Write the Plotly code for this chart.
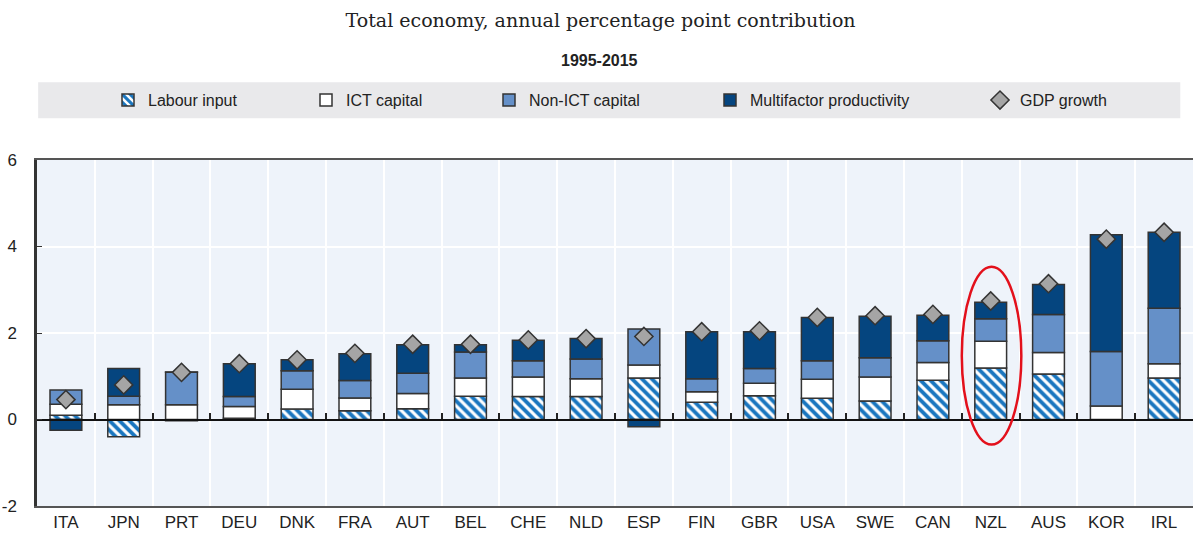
import plotly.graph_objs as go

countries = ['ITA', 'JPN', 'PRT', 'DEU', 'DNK', 'FRA', 'AUT', 'BEL', 'CHE', 'NLD',
             'ESP', 'FIN', 'GBR', 'USA', 'SWE', 'CAN', 'NZL', 'AUS', 'KOR', 'IRL']
labour = [0.10, -0.40, -0.03, 0.03, 0.24, 0.20, 0.25, 0.54, 0.53, 0.53,
          0.96, 0.40, 0.55, 0.49, 0.43, 0.91, 1.19, 1.05, -0.02, 0.96]
ict = [0.25, 0.34, 0.34, 0.27, 0.46, 0.30, 0.35, 0.42, 0.45, 0.41,
       0.30, 0.24, 0.29, 0.44, 0.55, 0.41, 0.62, 0.50, 0.31, 0.33]
non_ict = [0.33, 0.20, 0.75, 0.23, 0.43, 0.40, 0.47, 0.60, 0.38, 0.46,
           0.83, 0.30, 0.34, 0.43, 0.45, 0.50, 0.52, 0.88, 1.26, 1.28]
mfp = [-0.25, 0.64, 0.01, 0.76, 0.25, 0.62, 0.66, 0.17, 0.47, 0.47,
       -0.17, 1.09, 0.85, 1.00, 0.96, 0.59, 0.38, 0.69, 2.70, 1.76]
gdp = [0.46, 0.80, 1.09, 1.29, 1.38, 1.53, 1.74, 1.74, 1.84, 1.87,
       1.92, 2.03, 2.05, 2.36, 2.40, 2.43, 2.74, 3.14, 4.17, 4.33]
y_ticks = [-2, 0, 2, 4, 6]
y_ticktext = ['-2', '0', '2', '4', '6']
highlight = 'NZL'

FONT = 'Liberation Sans Narrow, Arial Narrow, Liberation Sans, Arial, sans-serif'
OUTLINE = dict(color='#333333', width=1.5)
BAR_W = 0.55

fig = go.Figure()

fig.add_trace(go.Bar(
    name='Labour input', x=countries, y=labour, width=BAR_W, legend='legend',
    marker=dict(color='white', line=OUTLINE,
                pattern=dict(shape='\\', fgcolor='#1A76BF', bgcolor='white', fgopacity=1,
                             size=7, solidity=0.55)),
))
fig.add_trace(go.Bar(
    name='ICT capital', x=countries, y=ict, width=BAR_W, legend='legend2',
    marker=dict(color='white', line=OUTLINE),
))
fig.add_trace(go.Bar(
    name='Non-ICT capital', x=countries, y=non_ict, width=BAR_W, legend='legend3',
    marker=dict(color='#6590C8', line=OUTLINE),
))
fig.add_trace(go.Bar(
    name='Multifactor productivity', x=countries, y=mfp, width=BAR_W, legend='legend4',
    marker=dict(color='#05457F', line=OUTLINE),
))
fig.add_trace(go.Scatter(
    name='GDP growth', x=countries, y=gdp, mode='markers', legend='legend5',
    marker=dict(symbol='diamond', size=14, color='#A5A5A5',
                line=dict(color='#333333', width=1.5)),
))

# empty trace so the zero-line axis (with boundary ticks) gets drawn
fig.add_trace(go.Scatter(x=[], y=[], xaxis='x2', showlegend=False, hoverinfo='skip'))

# gray legend band
fig.add_shape(type='rect', xref='paper', yref='paper', x0=0.001, x1=0.989,
              y0=1.121, y1=1.225, fillcolor='#E9E9EB', line=dict(width=0), layer='below')

# red ellipse around the highlighted country
i = countries.index(highlight)
fig.add_shape(type='circle', xref='x', yref='y', x0=i - 0.5, x1=i + 0.53,
              y0=-0.58, y1=3.53, line=dict(color='#E3101B', width=2.5))

legend_x = [148, 346, 529, 750, 1020]
legend_style = dict(orientation='h', yanchor='middle', y=1.173, xanchor='left',
                    bgcolor='rgba(0,0,0,0)', font=dict(family=FONT, size=16, color='#222222'))
legends = {}
for k, px in enumerate(legend_x):
    key = 'legend' if k == 0 else f'legend{k + 1}'
    legends[key] = dict(legend_style, x=(px - 40 - 37) / 1156)

fig.add_annotation(text='<b>1995-2015</b>', xref='paper', yref='paper', x=0.487, y=1.289,
                   yanchor='middle', showarrow=False,
                   font=dict(family=FONT, size=16, color='#222222'))

fig.update_layout(
    barmode='relative',
    width=1194, height=534,
    margin=dict(l=37, r=1, t=160, b=28, autoexpand=False),
    paper_bgcolor='white',
    plot_bgcolor='#EEF3FA',
    title=dict(text='Total economy, annual percentage point contribution',
               x=0.503, xref='container', xanchor='center',
               y=0.962, yref='container', yanchor='middle',
               font=dict(family='DejaVu Serif, Liberation Serif, serif', size=19, color='#222222')),
    xaxis=dict(type='category', categoryorder='array', categoryarray=countries,
               range=[-0.5, len(countries) - 0.5], tickson='boundaries',
               showgrid=True, gridcolor='white', gridwidth=2, ticks='',
               showline=True, linecolor='#555555', linewidth=2, mirror=True,
               tickfont=dict(family=FONT, size=17, color='#222222')),
    xaxis2=dict(overlaying='x', anchor='free', position=0.25, range=[-0.5, len(countries) - 0.5],
                tickvals=[k + 0.5 for k in range(len(countries) - 1)], ticks='inside',
                ticklen=6, tickwidth=1.5, tickcolor='#222222', showticklabels=False,
                showgrid=False, zeroline=False, showline=True, linecolor='#111111', linewidth=2),
    yaxis=dict(range=[-2, 6], tickvals=y_ticks, ticktext=y_ticktext,
               showgrid=True, gridcolor='white', gridwidth=2,
               zeroline=False, showline=True, linecolor='#333333', linewidth=2.5,
               ticks='inside', ticklen=5, tickcolor='#333333', ticklabelstandoff=14,
               tickfont=dict(family=FONT, size=17, color='#222222')),
    showlegend=True,
    **legends,
)

# drop the page's default body margin so the figure sits at the window's corner
fig.write_html('out.html', config={'displayModeBar': False},
               post_script="document.body.style.margin='0';")
